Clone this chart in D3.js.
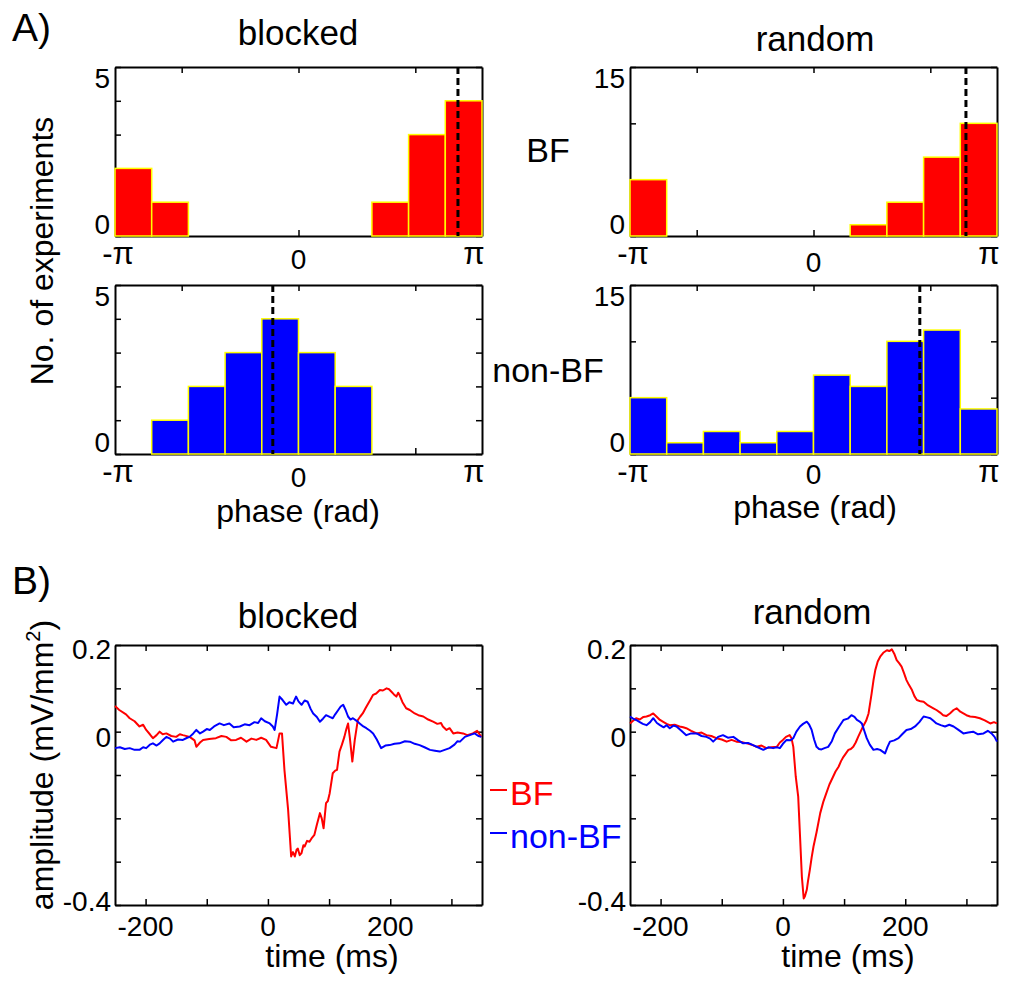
<!DOCTYPE html>
<html>
<head>
<meta charset="utf-8">
<script src="https://cdn.jsdelivr.net/npm/d3@7"></script>
<style>
  body { margin: 0; background: #fff; }
  svg { display: block; }
  text { font-family: "Liberation Sans", Arial, sans-serif; fill: #000; }
</style>
</head>
<body>
<svg id="fig" width="1010" height="981"></svg>
<script>
// ---- data: phase histograms (10 bins from -pi to pi) ----
const nBins = 10;
const blockedBF = [2, 1, 0, 0, 0, 0, 0, 1, 3, 4];
const blockedNonBF = [0, 1, 2, 3, 4, 3, 2, 0, 0, 0];
const randomBF = [5, 0, 0, 0, 0, 0, 1, 3, 7, 10];
const randomNonBF = [5, 1, 2, 1, 2, 7, 6, 10, 11, 4];
// mean phase (dashed lines), rad
const meanPhase = { blockedBF: 2.73, blockedNonBF: -0.44, randomBF: 2.61, randomNonBF: 1.82 };
const phaseTickLabels = ["-π", "0", "π"];

// ---- data: average traces, [time ms, amplitude mV/mm2] ----
const blockedBFTrace = [
  [-250, 0.059], [-243, 0.05], [-232, 0.04], [-226, 0.031], [-218, 0.024], [-210, 0.012], [-204, 0.016],
  [-199, 0.004], [-193, -0.006], [-188, -0.015], [-182, -0.008], [-177, 0], [-172, -0.006], [-166, -0.004],
  [-158, -0.01], [-150, -0.012], [-144, -0.006], [-139, -0.008], [-128, -0.012], [-120, -0.02], [-117, -0.035],
  [-111, -0.025], [-106, -0.019], [-96, -0.017], [-85, -0.015], [-76, -0.01], [-68, -0.012], [-60, -0.02],
  [-52, -0.019], [-44, -0.014], [-35, -0.023], [-27, -0.016], [-19, -0.019], [-11, -0.014], [-3, -0.019],
  [5, -0.035], [14, -0.038], [19, -0.004], [23, -0.004], [27, -0.088], [33, -0.18], [38, -0.288],
  [41, -0.278], [44, -0.288], [47, -0.272], [49, -0.27], [52, -0.285], [55, -0.28], [58, -0.262], [60, -0.265],
  [64, -0.252], [68, -0.254], [72, -0.245], [76, -0.238], [80, -0.215], [85, -0.188], [88, -0.2], [91, -0.223],
  [95, -0.165], [98, -0.16], [101, -0.142], [106, -0.096], [110, -0.09], [113, -0.088], [117, -0.046],
  [121, -0.03], [125, -0.012], [128, 0.005], [131, 0.019], [134, -0.015], [138, -0.069], [142, -0.019],
  [147, 0.027], [151, 0.035], [155, 0.042], [160, 0.055], [164, 0.065], [168, 0.075], [172, 0.085],
  [177, 0.088], [183, 0.096], [188, 0.095], [194, 0.1], [198, 0.098], [202, 0.092], [206, 0.086], [210, 0.081],
  [213, 0.09], [215, 0.085], [220, 0.068], [226, 0.054], [232, 0.05], [240, 0.042], [246, 0.038], [254, 0.035],
  [262, 0.028], [270, 0.023], [277, 0.018], [283, 0.02], [286, 0.012], [292, 0.004], [297, 0.008],
  [303, -0.004], [310, -0.002], [319, -0.004], [326, -0.008], [335, -0.004], [342, 0.002], [349, -0.012]
];
const blockedNonBFTrace = [
  [-250, -0.038], [-242, -0.036], [-234, -0.04], [-226, -0.038], [-218, -0.042], [-210, -0.042], [-204, -0.036],
  [-199, -0.038], [-193, -0.03], [-188, -0.027], [-182, -0.032], [-177, -0.027], [-172, -0.02], [-166, -0.012],
  [-160, -0.016], [-155, -0.023], [-147, -0.018], [-139, -0.019], [-132, -0.014], [-128, -0.012], [-122, -0.004],
  [-117, 0.004], [-111, -0.004], [-106, 0], [-100, 0.006], [-95, 0.004], [-88, 0.012], [-79, 0.019],
  [-72, 0.015], [-63, 0.019], [-56, 0.01], [-46, 0.012], [-38, 0.017], [-30, 0.015], [-22, 0.022],
  [-16, 0.02], [-11, 0.031], [-5, 0.024], [3, 0.019], [8, 0.012], [11, 0.004], [15, 0.04], [19, 0.081],
  [24, 0.073], [30, 0.062], [35, 0.068], [41, 0.065], [46, 0.081], [50, 0.07], [55, 0.062], [60, 0.072],
  [65, 0.069], [70, 0.052], [74, 0.042], [80, 0.034], [85, 0.023], [90, 0.03], [95, 0.038], [101, 0.034],
  [106, 0.031], [110, 0.04], [115, 0.05], [119, 0.058], [123, 0.062], [127, 0.05], [131, 0.035],
  [135, 0.028], [139, 0.031], [145, 0.025], [150, 0.019], [156, 0.012], [161, 0.008], [167, 0.002],
  [172, -0.004], [178, -0.018], [185, -0.038], [192, -0.032], [199, -0.031], [207, -0.028], [215, -0.027],
  [224, -0.022], [232, -0.023], [240, -0.028], [248, -0.031], [256, -0.036], [265, -0.042], [273, -0.044],
  [281, -0.046], [289, -0.042], [297, -0.038], [305, -0.03], [310, -0.022], [314, -0.023], [322, -0.012],
  [330, -0.008], [338, -0.004], [344, -0.01], [349, -0.012]
];
const randomBFTrace = [
  [-250, 0.019], [-245, 0.025], [-240, 0.031], [-234, 0.028], [-228, 0.034], [-223, 0.035], [-217, 0.038],
  [-212, 0.042], [-206, 0.034], [-201, 0.027], [-195, 0.022], [-190, 0.018], [-185, 0.015], [-177, 0.016],
  [-169, 0.012], [-163, 0.01], [-158, 0.008], [-150, 0.002], [-141, -0.004], [-133, -0.002], [-125, -0.008],
  [-117, -0.01], [-109, -0.015], [-100, -0.018], [-92, -0.023], [-84, -0.019], [-76, -0.023], [-68, -0.024],
  [-59, -0.027], [-51, -0.03], [-43, -0.035], [-35, -0.032], [-27, -0.038], [-19, -0.036], [-10, -0.035],
  [-5, -0.025], [0, -0.019], [5, -0.012], [11, -0.008], [14, -0.015], [17, -0.035], [21, -0.104],
  [25, -0.15], [28, -0.242], [31, -0.335], [34, -0.385], [36, -0.38], [39, -0.365], [41, -0.345],
  [44, -0.319], [47, -0.29], [50, -0.265], [55, -0.232], [61, -0.188], [66, -0.162], [71, -0.142],
  [76, -0.122], [82, -0.104], [86, -0.092], [91, -0.081], [95, -0.068], [99, -0.058], [103, -0.05],
  [107, -0.042], [111, -0.04], [115, -0.035], [119, -0.025], [123, -0.012], [127, 0], [131, 0.012],
  [136, 0.025], [140, 0.042], [145, 0.088], [148, 0.118], [151, 0.142], [155, 0.162], [159, 0.173],
  [164, 0.182], [170, 0.188], [174, 0.186], [178, 0.19], [182, 0.18], [186, 0.165], [190, 0.158],
  [194, 0.15], [198, 0.135], [202, 0.119], [206, 0.108], [211, 0.096], [215, 0.082], [219, 0.073],
  [225, 0.07], [230, 0.069], [236, 0.062], [241, 0.058], [246, 0.054], [251, 0.05], [257, 0.044],
  [262, 0.038], [267, 0.036], [273, 0.042], [279, 0.05], [284, 0.054], [290, 0.046], [295, 0.042],
  [300, 0.038], [306, 0.035], [314, 0.034], [322, 0.031], [330, 0.026], [339, 0.019], [345, 0.022],
  [350, 0.019]
];
const randomNonBFTrace = [
  [-250, 0.035], [-245, 0.03], [-240, 0.027], [-234, 0.022], [-229, 0.018], [-223, 0.015], [-217, 0.022],
  [-212, 0.031], [-206, 0.02], [-201, 0.015], [-195, 0.01], [-190, 0.015], [-185, 0.008], [-179, 0.014],
  [-174, 0.012], [-166, 0.002], [-158, -0.008], [-150, -0.004], [-141, -0.004], [-133, -0.01], [-125, -0.012],
  [-119, -0.016], [-114, -0.023], [-106, -0.012], [-98, -0.008], [-90, -0.014], [-81, -0.012], [-73, -0.02],
  [-65, -0.027], [-57, -0.026], [-49, -0.031], [-41, -0.036], [-32, -0.042], [-24, -0.036], [-16, -0.038],
  [-10, -0.036], [-5, -0.038], [0, -0.028], [6, -0.019], [12, -0.02], [17, -0.015], [22, 0], [28, 0.012],
  [33, 0.018], [39, 0.023], [43, 0.016], [47, 0.004], [51, -0.018], [55, -0.035], [59, -0.04],
  [63, -0.041], [68, -0.038], [74, -0.035], [80, -0.022], [85, -0.004], [92, 0.012], [99, 0.027],
  [106, 0.03], [112, 0.038], [117, 0.034], [121, 0.027], [125, 0.024], [129, 0.019], [133, 0.002],
  [137, -0.015], [142, -0.03], [148, -0.042], [154, -0.04], [159, -0.042], [163, -0.046], [167, -0.05],
  [171, -0.035], [175, -0.023], [182, -0.02], [189, -0.015], [195, -0.006], [202, 0.004], [209, 0.006],
  [216, 0.012], [223, 0.022], [230, 0.035], [236, 0.033], [241, 0.031], [246, 0.025], [251, 0.019],
  [258, 0.015], [265, 0.012], [272, 0.016], [279, 0.012], [287, 0.004], [295, -0.004], [303, -0.002],
  [311, 0], [319, -0.006], [328, -0.004], [335, 0.002], [341, -0.004], [346, -0.012], [350, -0.023]
];
const timeTicks = [-200, -100, 0, 100, 200, 300];
const timeTickLabels = [-200, 0, 200];
const ampTicks = [-0.4, -0.3, -0.2, -0.1, 0, 0.1, 0.2];
const ampTickLabels = [-0.4, 0, 0.2];

const svg = d3.select("#fig");
const RED = "#ff0000", BLUE = "#0000ff", YELLOW = "#ffff00";

function box(g, x, y, xt, yt) {
  const [x0, x1] = x.range(), y1 = y.range()[1];
  const tk = 6;
  g.append("g").attr("transform", `translate(0,${y.range()[0]})`)
    .call(d3.axisBottom(x).tickValues(xt).tickSize(-tk).tickSizeOuter(0).tickFormat(""));
  g.append("g").attr("transform", `translate(0,${y1})`)
    .call(d3.axisTop(x).tickValues(xt).tickSize(-tk).tickSizeOuter(0).tickFormat(""));
  g.append("g").attr("transform", `translate(${x0},0)`)
    .call(d3.axisLeft(y).tickValues(yt).tickSize(-tk).tickSizeOuter(0).tickFormat(""));
  g.append("g").attr("transform", `translate(${x1},0)`)
    .call(d3.axisRight(y).tickValues(yt).tickSize(-tk).tickSizeOuter(0).tickFormat(""));
  g.selectAll(".domain").attr("stroke", "#000").attr("stroke-width", 2);
  g.selectAll(".tick line").attr("stroke", "#000").attr("stroke-width", 1.5);
}

function label(txt, x, y, size, opts = {}) {
  const t = svg.append("text").attr("x", x).attr("y", y)
    .attr("font-size", size).attr("text-anchor", opts.anchor || "middle").text(txt);
  if (opts.fill) t.style("fill", opts.fill);
  if (opts.rotate) t.attr("transform", `rotate(-90,${x},${y})`);
  return t;
}

// ---- A) histograms ----
function histPanel(counts, mean, xr, yr, ymax, color, yTicks) {
  const x = d3.scaleLinear().domain([-Math.PI, Math.PI]).range(xr);
  const y = d3.scaleLinear().domain([0, ymax]).range(yr);
  const g = svg.append("g");
  box(g, x, y, [-2, 0, 2], yTicks);
  const edges = d3.range(nBins + 1).map(i => -Math.PI + i * 2 * Math.PI / nBins);
  g.selectAll("rect.bar").data(counts.map((c, i) => ({ c, i })).filter(d => d.c > 0))
    .join("rect").attr("class", "bar")
    .attr("x", d => x(edges[d.i]))
    .attr("width", d => x(edges[d.i + 1]) - x(edges[d.i]))
    .attr("y", d => y(d.c))
    .attr("height", d => y(0) - y(d.c))
    .attr("fill", color).attr("stroke", YELLOW).attr("stroke-width", 1.5);
  g.append("line")
    .attr("x1", x(mean)).attr("x2", x(mean))
    .attr("y1", y(ymax)).attr("y2", y(0))
    .attr("stroke", "#000").attr("stroke-width", 3).attr("stroke-dasharray", "7,4");
  return { x, y };
}

const aTop = [236, 67], aBot = [454, 285];
const aLeft = [115, 482], aRight = [630, 997];
const p1 = histPanel(blockedBF, meanPhase.blockedBF, aLeft, aTop, 5, RED, [0, 1, 2, 3, 4, 5]);
const p2 = histPanel(randomBF, meanPhase.randomBF, aRight, aTop, 15, RED, [0, 5, 10, 15]);
const p3 = histPanel(blockedNonBF, meanPhase.blockedNonBF, aLeft, aBot, 5, BLUE, [0, 1, 2, 3, 4, 5]);
const p4 = histPanel(randomNonBF, meanPhase.randomNonBF, aRight, aBot, 15, BLUE, [0, 5, 10, 15]);

// y tick labels
[[p1, 5], [p3, 5], [p2, 15], [p4, 15]].forEach(([p, m]) => {
  const xl = p.x.range()[0] - 5;
  label(String(m), xl, p.y(m) + 21, 28, { anchor: "end" });
  label("0", xl, p.y(0) - 2, 28, { anchor: "end" });
});
// x tick labels (-pi, 0, pi)
[[p1, 264, 269], [p2, 264, 272], [p3, 482, 487], [p4, 482, 484]].forEach(([p, yPi, yZero]) => {
  [-Math.PI, 0, Math.PI].forEach((v, i) => {
    const dx = i === 0 ? 3 : (i === 2 ? -8 : 0);
    label(phaseTickLabels[i], p.x(v) + dx, i === 1 ? yZero : yPi, i === 1 ? 28 : 31);
  });
});

label("A)", 12, 41, 39, { anchor: "start" });
label("blocked", 298, 45, 35);
label("random", 815, 51, 35);
label("BF", 548, 162, 34);
label("non-BF", 548, 382, 34);
label("No. of experiments", 53, 251, 32, { rotate: true });
label("phase (rad)", 298, 522, 32);
label("phase (rad)", 815, 518, 32);

// ---- B) traces ----
function tracePanel(bf, nonbf, xr) {
  const x = d3.scaleLinear().domain([-250, 350]).range(xr);
  const y = d3.scaleLinear().domain([-0.4, 0.2]).range([905, 645]);
  const g = svg.append("g");
  box(g, x, y, timeTicks, ampTicks);
  const line = d3.line().x(d => x(d[0])).y(d => y(d[1]));
  g.append("path").datum(bf).attr("d", line)
    .attr("fill", "none").attr("stroke", RED).attr("stroke-width", 2).attr("stroke-linejoin", "round");
  g.append("path").datum(nonbf).attr("d", line)
    .attr("fill", "none").attr("stroke", BLUE).attr("stroke-width", 2).attr("stroke-linejoin", "round");
  timeTickLabels.forEach(v => label(String(v), x(v), 936, 28));
  ampTickLabels.forEach(v => label(String(v), xr[0] - 4, y(v) + (v === 0.2 ? 14 : (v === 0 ? 15 : 6)), 28, { anchor: "end" }));
  return { x, y };
}
const b1 = tracePanel(blockedBFTrace, blockedNonBFTrace, [115, 482]);
const b2 = tracePanel(randomBFTrace, randomNonBFTrace, [630, 997]);

label("B)", 12, 594, 39, { anchor: "start" });
label("blocked", 298, 628, 35);
label("random", 812, 624, 35);
label("time (ms)", 332, 967, 32);
label("time (ms)", 848, 967, 32);

// amplitude label with superscript
const amp = svg.append("text").attr("x", 53).attr("y", 765).attr("font-size", 32)
  .attr("text-anchor", "middle").attr("transform", "rotate(-90,53,765)");
amp.append("tspan").text("amplitude (mV/mm");
amp.append("tspan").attr("font-size", 20).attr("dy", -13).text("2");
amp.append("tspan").attr("dy", 13).text(")");

// legend
const legend = [["BF", RED, 805], ["non-BF", BLUE, 848]];
legend.forEach(([name, c, yb]) => {
  svg.append("line").attr("x1", 490).attr("x2", 507).attr("y1", yb - 15).attr("y2", yb - 15)
    .attr("stroke", c).attr("stroke-width", 2);
  label(name, 510, yb, 34, { anchor: "start", fill: c });
});
</script>
</body>
</html>
